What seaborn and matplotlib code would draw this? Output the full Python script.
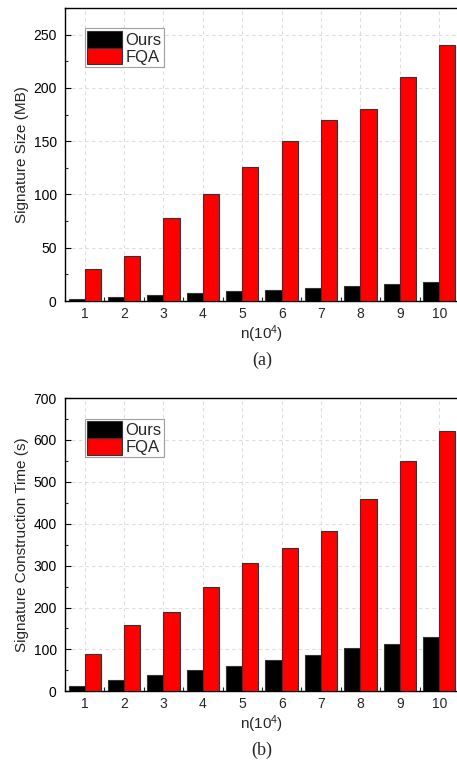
import seaborn as sns
import matplotlib.pyplot as plt
import matplotlib.ticker as mticker
import pandas as pd

# values
n_labels = ["1", "2", "3", "4", "5", "6", "7", "8", "9", "10"]
size_ours = [1.8, 3.6, 5.4, 7.2, 9.0, 10.8, 12.6, 14.4, 16.2, 18.0]
size_fqa = [30, 42, 78, 100, 126, 150, 170, 180, 210, 240]
time_ours = [13, 26, 38, 50, 60, 75, 87, 103, 112, 129]
time_fqa = [90, 158, 189, 248, 306, 342, 383, 459, 549, 621]

sns.set_theme(style="ticks")
plt.rcParams['font.family'] = ['Liberation Sans', 'DejaVu Sans']
plt.rcParams['mathtext.fontset'] = 'custom'
plt.rcParams['mathtext.rm'] = 'Liberation Sans'
plt.rcParams['mathtext.it'] = 'Liberation Sans:italic'


def long_df(ours, fqa):
    return pd.DataFrame({
        "n": n_labels * 2,
        "value": ours + fqa,
        "method": ["Ours"] * len(ours) + ["FQA"] * len(fqa),
    })


def draw_panel(ax, ours, fqa, ylim, major, minor, ylabel, tag):
    df = long_df(ours, fqa)
    sns.barplot(data=df, x="n", y="value", hue="method",
                palette={"Ours": "black", "FQA": "#ff0000"}, saturation=1,
                width=0.82, edgecolor="#333333", linewidth=0.8,
                ax=ax, zorder=3)
    ax.set_xlim(-0.5, 9.5)
    ax.set_ylim(*ylim)
    ax.yaxis.set_major_locator(mticker.MultipleLocator(major))
    ax.yaxis.set_minor_locator(mticker.MultipleLocator(minor))
    ax.xaxis.set_minor_locator(mticker.FixedLocator([i + 0.5 for i in range(-1, 10)]))
    ax.tick_params(axis="y", which="major", direction="in", length=4, width=0.8,
                   labelsize=10, pad=6, colors="black")
    ax.tick_params(axis="y", which="minor", direction="in", length=2, width=0.8)
    ax.tick_params(axis="x", which="major", length=0, labelsize=10, pad=4)
    ax.tick_params(axis="x", which="minor", direction="in", length=3, width=0.8)
    ax.grid(True, which="major", color="#dddddd", linestyle=(0, (3, 3)), linewidth=0.8, zorder=0)
    for s in ax.spines.values():
        s.set_linewidth(1.0)
        s.set_color("black")
    ax.set_ylabel(ylabel, fontsize=11, labelpad=3)
    ax.set_xlabel("n(10$^{4}$)", fontsize=11, labelpad=2)
    leg = ax.legend(loc="upper left", bbox_to_anchor=(0.05, 0.93), fontsize=12,
                    frameon=True, fancybox=False, edgecolor="#888888",
                    handlelength=2.1, handleheight=1.15, labelspacing=0.0,
                    borderpad=0.15, handletextpad=0.2, borderaxespad=0)
    leg.get_frame().set_linewidth(0.8)
    ax.text(0.5, -0.172, tag, transform=ax.transAxes, ha="center", va="top",
            fontsize=13, family="Liberation Serif")


fig = plt.figure(figsize=(4.57, 7.66), dpi=100)
ax1 = fig.add_axes([0.1422, 0.607, 0.862, 0.3826])
ax2 = fig.add_axes([0.1422, 0.0975, 0.862, 0.3829])

draw_panel(ax1, size_ours, size_fqa, (0, 275), 50, 25, "Signature Size (MB)", "(a)")
draw_panel(ax2, time_ours, time_fqa, (0, 700), 100, 50, "Signature Construction Time (s)", "(b)")

fig.savefig("out.png", dpi=100)
